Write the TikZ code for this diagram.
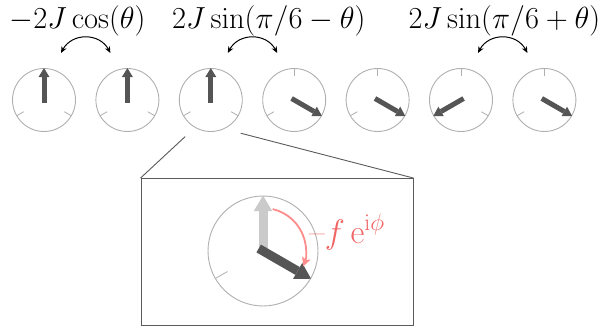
\documentclass[tikz,border=0pt]{standalone}
\usepackage{fix-cm}
\usepackage{amsmath}
\usetikzlibrary{arrows.meta,positioning}
\definecolor{dialgray}{RGB}{175,175,175}
\definecolor{handgray}{RGB}{85,85,85}
\definecolor{ghostgray}{RGB}{202,202,202}
\definecolor{framegray}{RGB}{90,90,90}
\definecolor{phasered}{RGB}{240,100,100}
\definecolor{phasepink}{RGB}{255,140,140}

\begin{document}
\begin{tikzpicture}[x=1pt, y=1pt, node distance=19.5pt,
  every node/.style={align=center},
  dial/.style={circle, draw=dialgray, line width=0.9pt, minimum size=63pt, inner sep=0pt},
  tick/.style={dialgray, line width=0.8pt},
  hand/.style={handgray, line width=5pt, -{Triangle[length=9pt, width=11pt, line width=0pt]}},
  bighand/.style={line width=9pt, -{Triangle[length=15.5pt, width=18.5pt, line width=0pt]}},
  coupling/.style={line width=1pt, {Stealth[length=6.5pt, width=5.5pt]}-{Stealth[length=6.5pt, width=5.5pt]}},
  energy/.style={anchor=base west, inner sep=0pt, font=\fontsize{30.5}{35}\selectfont}]
  \useasboundingbox (0,0) rectangle (604,331);
  % chain of spins
  \node[dial] (c1) at (44,231) {};
  \node[dial, right=of c1] (c2) {};
  \node[dial, right=of c2] (c3) {};
  \node[dial, right=of c3] (c4) {};
  \node[dial, right=of c4] (c5) {};
  \node[dial, right=of c5] (c6) {};
  \node[dial, right=of c6] (c7) {};
  \foreach \n/\a in {1/90,2/90,3/90,4/330,5/330,6/210,7/330} {
    \foreach \t in {90,210,330}
      \draw[tick] (c\n.center) ++(\t:23.5) -- ++(\t:8);
    \draw[hand] (c\n.center) ++(\a+180:3) -- (c\n.\a);
  }
  % couplings
  \node[energy] (e1) at (9.5,302.7) {$-2J\cos(\theta)$};
  \node[energy] (e2) at (172,302.7) {$2J\sin(\pi/6-\theta)$};
  \node[energy] (e3) at (408.5,302.7) {$2J\sin(\pi/6+\theta)$};
  \draw[coupling] ([shift={(17,47)}]c1.center) to[out=62, in=118, looseness=1.2] ([shift={(-17,47)}]c2.center);
  \draw[coupling] ([shift={(17,47)}]c3.center) to[out=62, in=118, looseness=1.2] ([shift={(-17,47)}]c4.center);
  \draw[coupling] ([shift={(17,47)}]c6.center) to[out=62, in=118, looseness=1.2] ([shift={(-17,47)}]c7.center);
  % zoom on the third spin
  \node[circle, minimum size=89pt, inner sep=0pt] (lens) at (c3.center) {};
  \node[draw=framegray, line width=0.9pt, minimum width=272pt, minimum height=146.5pt, inner sep=0pt] (zoombox) at (277,79.25) {};
  \draw[framegray, line width=0.9pt] (lens.235) -- (zoombox.north west);
  \draw[framegray, line width=0.9pt] (lens.312) -- (zoombox.north east);
  \node[dial, minimum size=110pt] (big) at (263,80) {};
  \foreach \t in {90,210,330}
    \draw[tick] (big.center) ++(\t:41) -- ++(\t:14);
  \draw[bighand, ghostgray] (big.center) -- (big.90);
  \draw[bighand, handgray] (big.center) ++(150:5) -- (big.330);
  \draw[phasepink, line width=1.8pt, -{Stealth[length=9pt, width=9pt, inset=2pt, line width=0pt]}] (big.center) ++(77:43) arc[start angle=77, end angle=-21, radius=43];
  \node[anchor=base west, inner sep=0pt, text=phasered, font=\fontsize{34}{40}\selectfont] (kick) at (309,87.7) {\textendash$f\,\mathrm{e}^{\mathrm{i}\phi}$};
\end{tikzpicture}
\end{document}
